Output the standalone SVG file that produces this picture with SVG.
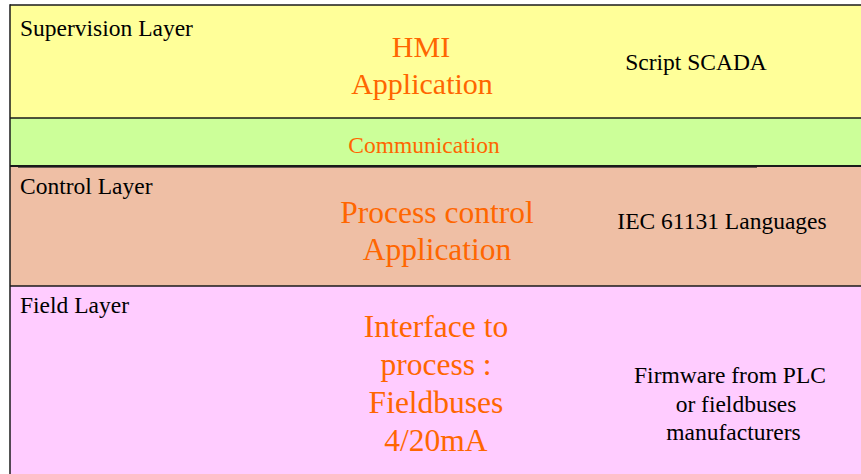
<svg xmlns="http://www.w3.org/2000/svg" width="861" height="474" viewBox="0 0 861 474" font-family="'Liberation Serif', 'Times New Roman', Tinos, serif">
  <style>
    .band { stroke: none; }
    .rule { stroke: #1a1a1a; stroke-width: 1.5; fill: none; }
    text { font-family: "Liberation Serif", "Times New Roman", Tinos, serif; }
    .lbl { font-size: 23.5px; fill: #000000; }
    .big { font-size: 31.5px; fill: #FF6600; text-anchor: middle; }
    .mid { font-size: 23.5px; fill: #000000; text-anchor: middle; }
    .com { font-size: 23.5px; fill: #FF6600; text-anchor: middle; }
  </style>
  <rect x="0" y="0" width="861" height="474" fill="#ffffff"/>

  <g id="supervision-layer">
    <rect class="band" x="10" y="5" width="851" height="113" fill="#FFFF99"/>
    <text class="lbl" x="20" y="35.5">Supervision Layer</text>
    <text class="big" x="421" y="57" style="font-size:30px">HMI</text>
    <text class="big" x="422" y="94" style="font-size:30px">Application</text>
    <text class="mid" x="696" y="70">Script SCADA</text>
  </g>

  <g id="communication">
    <rect class="band" x="10" y="118" width="851" height="48" fill="#CCFF99"/>
    <text class="com" x="424" y="153">Communication</text>
  </g>

  <g id="control-layer">
    <rect class="band" x="10" y="166" width="851" height="120" fill="#EFBFA5"/>
    <text class="lbl" x="20" y="194">Control Layer</text>
    <text class="big" x="437" y="223">Process control</text>
    <text class="big" x="437" y="260">Application</text>
    <text class="mid" x="722" y="229">IEC 61131 Languages</text>
  </g>

  <g id="field-layer">
    <rect class="band" x="10" y="286" width="851" height="188" fill="#FFCCFF"/>
    <text class="lbl" x="20" y="313">Field Layer</text>
    <text class="big" x="436" y="337">Interface to</text>
    <text class="big" x="436" y="375">process :</text>
    <text class="big" x="436" y="413">Fieldbuses</text>
    <text class="big" x="436" y="451">4/20mA</text>
    <text class="mid" x="730" y="383">Firmware from PLC</text>
    <text class="mid" x="736" y="411.5">or fieldbuses</text>
    <text class="mid" x="733.5" y="439.5">manufacturers</text>
  </g>

  <g id="connectors">
    <line class="rule" x1="10" y1="5" x2="861" y2="5"/>
    <line class="rule" x1="10" y1="4.25" x2="10" y2="474"/>
    <line class="rule" x1="10" y1="118" x2="861" y2="118"/>
    <line class="rule" x1="10" y1="166" x2="861" y2="166" style="stroke-width:2"/>
    <line x1="18" y1="167.5" x2="757" y2="167.5" stroke="#6b5a50" stroke-width="1"/>
    <line class="rule" x1="10" y1="286" x2="861" y2="286"/>
  </g>
</svg>
